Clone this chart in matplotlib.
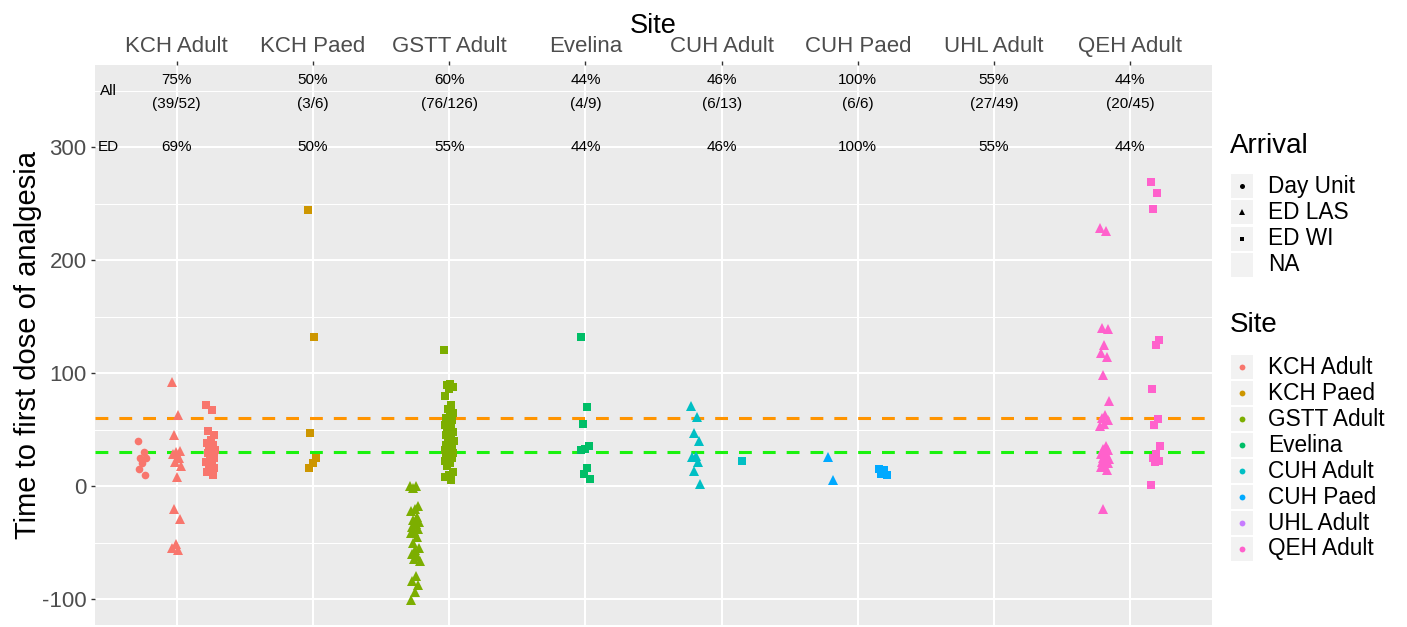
import matplotlib
matplotlib.use("Agg")
import matplotlib.pyplot as plt
from matplotlib.patches import Rectangle
from matplotlib.lines import Line2D

plt.rcParams['font.family'] = ['Liberation Sans', 'DejaVu Sans']
plt.rcParams['axes.unicode_minus'] = False

sites = ["KCH Adult", "KCH Paed", "GSTT Adult", "Evelina", "CUH Adult",
         "CUH Paed", "UHL Adult", "QEH Adult"]
site_colours = ["#F8766D", "#CD9600", "#7CAE00", "#00BE67", "#00BFC4",
                "#00A9FF", "#C77CFF", "#FF61CC"]
arrivals = ["Day Unit", "ED LAS", "ED WI", "NA"]
arrival_markers = {"Day Unit": "o", "ED LAS": "^", "ED WI": "s"}

# minutes to first dose, by site and arrival route
kch_adult = {
    "Day Unit": [40, 30, 25, 25, 20, 15, 10],
    "ED LAS": [92, 63, 45, 31, 30, 28, 25, 21, 18, 8, -20, -29, -51, -55, -57],
    "ED WI": [72, 67, 49, 45, 41, 38, 36, 34, 32, 30, 29, 25, 23, 21, 19, 18,
              16, 14, 12, 10],
}
kch_paed = {"ED WI": [244, 132, 47, 25, 20, 16]}
gstt_adult = {
    "ED LAS": [0, 0, -2, -18, -20, -22, -27, -30, -32, -34, -36, -38, -40,
               -42, -45, -50, -55, -57, -60, -62, -65, -66, -80, -84, -88,
               -94, -101],
    "ED WI": [120, 90, 89, 88, 86, 80, 72, 68, 65, 62, 60, 58, 56, 54, 52, 50,
              48, 46, 45, 43, 42, 40, 38, 36, 35, 34, 32, 31, 30, 29, 28, 26,
              25, 24, 22, 20, 18, 12, 10, 8, 5],
}
evelina = {"ED WI": [132, 70, 55, 35, 33, 32, 16, 11, 6]}
cuh_adult = {
    "ED LAS": [71, 61, 47, 40, 27, 26, 21, 13, 2],
    "ED WI": [22],
}
cuh_paed = {"ED LAS": [26, 5], "ED WI": [15, 14, 11, 10]}
uhl_adult = {}
qeh_adult = {
    "ED LAS": [228, 226, 140, 139, 125, 118, 114, 98, 75, 63, 60, 58, 55, 53,
               35, 33, 32, 30, 28, 27, 25, 24, 22, 21, 20, 18, 17, 14, -20],
    "ED WI": [269, 259, 245, 129, 125, 86, 59, 54, 35, 28, 25, 22, 21, 1],
}
site_data = [kch_adult, kch_paed, gstt_adult, evelina, cuh_adult, cuh_paed,
             uhl_adult, qeh_adult]

# arrival groups recorded per site (NA takes a dodge slot but draws nothing)
site_groups = [["Day Unit", "ED LAS", "ED WI"], ["ED WI"],
               ["ED LAS", "ED WI", "NA"], ["ED WI"], ["ED LAS", "ED WI"],
               ["ED LAS", "ED WI"], [], ["ED LAS", "ED WI"]]

pct_all = ["75%", "50%", "60%", "44%", "46%", "100%", "55%", "44%"]
counts_all = ["(39/52)", "(3/6)", "(76/126)", "(4/9)", "(6/13)", "(6/6)",
              "(27/49)", "(20/45)"]
pct_ed = ["69%", "50%", "55%", "44%", "46%", "100%", "55%", "44%"]

target_lines = [(60, "#FF9400"), (30, "#1AF20E")]

W, H = 1407, 627
fig = plt.figure(figsize=(W / 100, H / 100), dpi=100)
ax = fig.add_axes([95 / W, 1 - 625 / H, (1212 - 95) / W, (625 - 65) / H])
ax.set_facecolor("#EBEBEB")
for s in ax.spines.values():
    s.set_visible(False)

ax.set_xlim(0.4, 8.6)
ax.set_ylim(-123, 372.6)
ax.set_yticks([-100, 0, 100, 200, 300])
ax.set_yticks([-50, 50, 150, 250, 350], minor=True)
ax.set_xticks(range(1, 9))
ax.set_xticklabels(sites)
ax.grid(which="major", color="white", linewidth=1.45)
ax.grid(which="minor", axis="y", color="white", linewidth=0.75)
ax.set_axisbelow(True)
ax.xaxis.tick_top()
ax.xaxis.set_label_position("top")
ax.tick_params(axis="both", which="major", length=3, width=1, color="#333333",
               labelsize=16, labelcolor="#4D4D4D", pad=3)
ax.tick_params(axis="both", which="minor", length=0)
ax.set_xlabel("Site", fontsize=19.5, labelpad=2)
ax.set_ylabel("Time to first dose of analgesia", fontsize=21, labelpad=0)

# target lines
for yv, col in target_lines:
    ax.axhline(yv, color=col, linewidth=2.2, linestyle=(0, (4.2, 3.6)),
               dash_capstyle="butt", zorder=2)

# points, dodged by arrival route and jittered horizontally
dodge_width = 0.75
jit = 0.035
marker_sizes = {"o": 5.5, "^": 6.5, "s": 5.2}
for i, (data, groups) in enumerate(zip(site_data, site_groups)):
    n = len(groups)
    for g, grp in enumerate(groups):
        if grp not in data:
            continue
        centre = i + 1 + (g - (n - 1) / 2) * dodge_width / n
        vals = data[grp]
        xs = [centre + ((k * 0.618034) % 1 - 0.5) * 2 * jit for k in range(len(vals))]
        m = arrival_markers[grp]
        ax.plot(xs, vals, linestyle="none", marker=m,
                markersize=marker_sizes[m], markeredgewidth=0,
                color=site_colours[i], zorder=3)

# percentage annotations
ax.text(0.5, 350, "All", fontsize=11, ha="center", va="center")
ax.text(0.5, 300, "ED", fontsize=11, ha="center", va="center")
for i in range(len(sites)):
    ax.text(i + 1, 359, pct_all[i], fontsize=11, ha="center", va="center")
    ax.text(i + 1, 338, counts_all[i], fontsize=11, ha="center", va="center")
    ax.text(i + 1, 300, pct_ed[i], fontsize=11, ha="center", va="center")


# legends, laid out in pixel positions
def fx(x):
    return x / W


def fy(y):
    return 1 - y / H


def key(yc):
    fig.patches.append(Rectangle((fx(1231), fy(yc + 12)), 22 / W, 24 / H,
                                 transform=fig.transFigure,
                                 facecolor="#F2F2F2", edgecolor="none"))


fig.text(fx(1230), fy(146), "Arrival", fontsize=20, ha="left", va="center")
for k, a in enumerate(arrivals):
    yc = 186 + k * 26.3
    key(yc)
    if a in arrival_markers:
        m = arrival_markers[a]
        fig.lines.append(Line2D([fx(1242)], [fy(yc)], transform=fig.transFigure,
                                marker=m, markersize={"o": 3.6, "^": 4.2, "s": 3.4}[m],
                                markeredgewidth=0, color="black", linestyle="none"))
    fig.text(fx(1268), fy(yc), a, fontsize=16.3, ha="left", va="center")

fig.text(fx(1230), fy(325), "Site", fontsize=20, ha="left", va="center")
for k, s in enumerate(sites):
    yc = 367 + k * 26
    key(yc)
    fig.lines.append(Line2D([fx(1242)], [fy(yc)], transform=fig.transFigure,
                            marker="o", markersize=4.2, markeredgewidth=0,
                            color=site_colours[k], linestyle="none"))
    fig.text(fx(1268), fy(yc), s, fontsize=16.3, ha="left", va="center")

fig.savefig("out.png", dpi=100, facecolor="white")
